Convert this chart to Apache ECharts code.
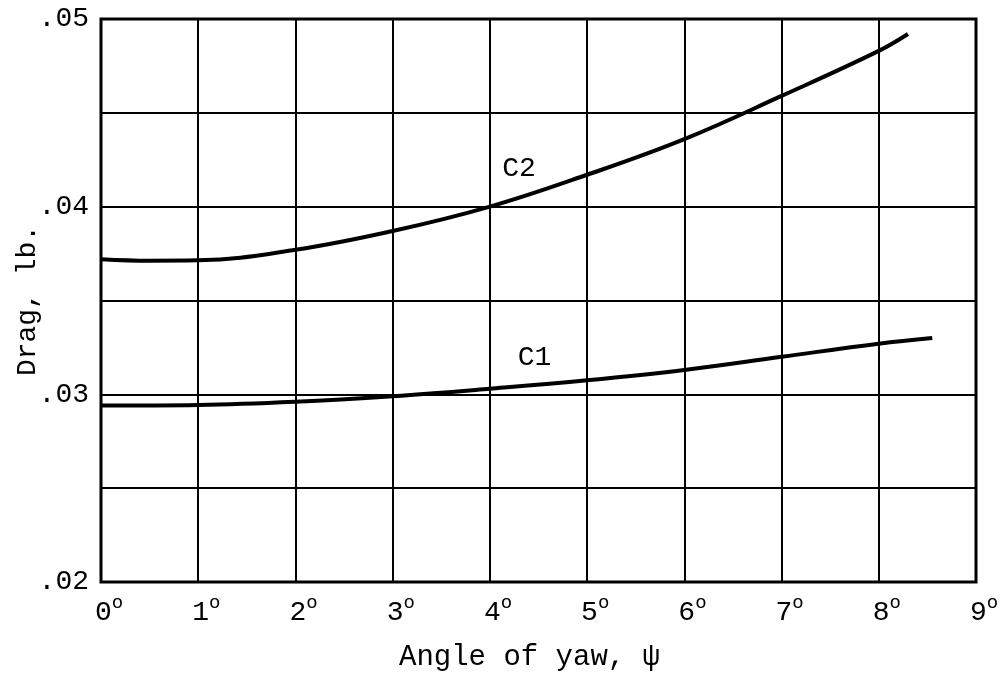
<!DOCTYPE html>
<html>
<head>
<meta charset="utf-8">
<script src="https://cdn.jsdelivr.net/npm/echarts@6/dist/echarts.min.js"></script>
<style>
  html, body { margin: 0; padding: 0; background: #fff; }
  #chart { width: 1008px; height: 675px; }
</style>
</head>
<body>
<div id="chart"></div>
<script>
// 数据
const c2Angles = [0, 0.5, 1, 2, 3, 4, 5, 6, 7, 8, 8.3];
const c2Drag = [0.0372, 0.03712, 0.03714, 0.0377, 0.0387, 0.0400, 0.0417, 0.0436, 0.0459, 0.0483, 0.0492];
const c1Angles = [0, 1, 2, 3, 4, 5, 6, 7, 8, 8.55];
const c1Drag = [0.0294, 0.02943, 0.0296, 0.0299, 0.0303, 0.03075, 0.0313, 0.0320, 0.0327, 0.0330];
const yTickLabels = { "0.02": ".02", "0.03": ".03", "0.04": ".04", "0.05": ".05" };

const font = "Liberation Mono";

const zip = (xs, ys) => xs.map((x, i) => [x, ys[i]]);

const chart = echarts.init(document.getElementById("chart"));

const options = {
  backgroundColor: "#fff",
  animation: false,
  grid: {
    left: 101,
    right: 32,
    top: 19,
    bottom: 93,
    outerBoundsMode: "none",
    containLabel: false,
    show: true,
    borderColor: "#000",
    borderWidth: 3,
  },
  xAxis: {
    type: "value",
    min: 0,
    max: 9,
    interval: 1,
    name: "Angle of yaw, ψ",
    nameLocation: "middle",
    nameGap: 61,
    nameMoveOverlap: false,
    nameTextStyle: { fontFamily: font, fontSize: 29, color: "#000", padding: [0, 18, 0, 0] },
    axisLine: { show: false },
    axisTick: { show: false },
    splitLine: { show: true, lineStyle: { color: "#000", width: 2 } },
    axisLabel: {
      margin: 11,
      align: "left",
      formatter: (v) => "{n|" + v + "}{s|o}",
      rich: {
        n: { fontFamily: font, fontSize: 28, color: "#000", lineHeight: 34, verticalAlign: "bottom", padding: [0, 0, 0, -6] },
        s: { fontFamily: font, fontSize: 19, color: "#000", lineHeight: 34, verticalAlign: "top" },
      },
    },
  },
  yAxis: {
    type: "value",
    min: 0.02,
    max: 0.05,
    interval: 0.005,
    name: "Drag, lb.",
    nameLocation: "middle",
    nameGap: 59,
    nameMoveOverlap: false,
    nameRotate: 90,
    nameTextStyle: { fontFamily: font, fontSize: 28, color: "#000" },
    axisLine: { show: false },
    axisTick: { show: false },
    splitLine: { show: true, lineStyle: { color: "#000", width: 2 } },
    axisLabel: {
      margin: 12,
      fontFamily: font,
      fontSize: 28,
      color: "#000",
      formatter: (v) => yTickLabels[v.toFixed(2)] && Math.abs(v * 100 - Math.round(v * 100)) < 1e-6 ? yTickLabels[v.toFixed(2)] : "",
    },
  },
  series: [
    {
      name: "C2",
      type: "line",
      smooth: 0.4,
      showSymbol: false,
      data: zip(c2Angles, c2Drag),
      lineStyle: { color: "#000", width: 4 },
      markPoint: {
        symbol: "circle",
        symbolSize: 0,
        label: { show: true, formatter: "C2", fontFamily: font, fontSize: 28, color: "#000" },
        data: [{ coord: [4.3, 0.04204] }],
      },
    },
    {
      name: "C1",
      type: "line",
      smooth: 0.4,
      showSymbol: false,
      data: zip(c1Angles, c1Drag),
      lineStyle: { color: "#000", width: 4 },
      markPoint: {
        symbol: "circle",
        symbolSize: 0,
        label: { show: true, formatter: "C1", fontFamily: font, fontSize: 28, color: "#000" },
        data: [{ coord: [4.46, 0.03194] }],
      },
    },
  ],
};

chart.setOption(options);

window.addEventListener("resize", () => {
  chart.resize();
});
</script>
</body>
</html>
